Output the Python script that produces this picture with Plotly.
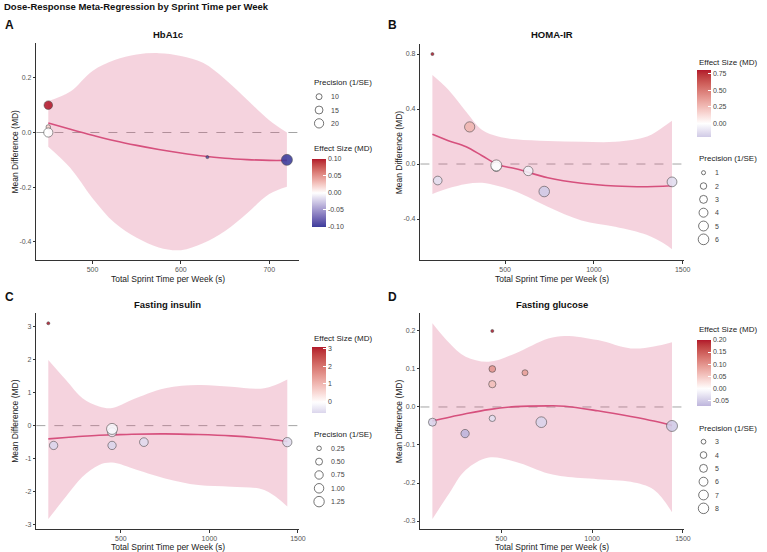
import numpy as np
import plotly.graph_objects as go

W, H = 767, 552

# ---------------- data ----------------
# Panel A: HbA1c
a_x = [450, 450, 450, 630, 720]
a_md = [0.02, 0.10, 0.00, -0.09, -0.10]
a_prec = [7.8, 17.0, 19.6, 7.0, 28.0]
a_grid = [450, 475, 500, 525, 550, 575, 600, 625, 650, 675, 700, 720]
a_fit = [0.035, 0.012, -0.010, -0.030, -0.047, -0.062, -0.075, -0.086, -0.094, -0.099, -0.102, -0.102]
a_upper = [0.115, 0.150, 0.225, 0.265, 0.285, 0.290, 0.280, 0.255, 0.195, 0.120, 0.045, 0.000]
a_lower = [-0.052, -0.130, -0.240, -0.330, -0.385, -0.420, -0.430, -0.405, -0.360, -0.295, -0.225, -0.198]
a_size_breaks = [10, 15, 20]
a_size_labels = ["10", "15", "20"]
a_col_breaks = [-0.10, -0.05, 0.0, 0.05, 0.10]
a_col_labels = ["-0.10", "-0.05", "0.00", "0.05", "0.10"]

# Panel B: HOMA-IR
b_x = [90, 120, 300, 450, 450, 630, 720, 1440]
b_md = [0.80, -0.12, 0.27, -0.02, -0.01, -0.05, -0.20, -0.13]
b_prec = [0.9, 3.7, 5.4, 4.5, 6.4, 4.5, 5.8, 4.9]
b_grid = [90, 180, 280, 370, 460, 560, 740, 930, 1120, 1300, 1390, 1440]
b_fit = [0.216, 0.170, 0.125, 0.060, -0.005, -0.035, -0.100, -0.140, -0.160, -0.165, -0.162, -0.158]
b_upper = [0.647, 0.540, 0.380, 0.247, 0.200, 0.180, 0.167, 0.162, 0.162, 0.200, 0.270, 0.315]
b_lower = [-0.218, -0.177, -0.145, -0.137, -0.160, -0.200, -0.310, -0.410, -0.456, -0.516, -0.575, -0.620]
b_size_breaks = [1, 2, 3, 4, 5, 6]
b_size_labels = ["1", "2", "3", "4", "5", "6"]
b_col_breaks = [0.0, 0.25, 0.50, 0.75]
b_col_labels = ["0.00", "0.25", "0.50", "0.75"]

# Panel C: Fasting insulin
c_x = [90, 120, 450, 450, 450, 630, 1440]
c_md = [3.1, -0.6, -0.2, -0.1, -0.6, -0.5, -0.5]
c_prec = [0.2, 0.73, 0.875, 1.4, 0.73, 0.81, 0.94]
c_grid = [90, 190, 283, 377, 451, 563, 750, 937, 1123, 1310, 1440]
c_fit = [-0.40, -0.36, -0.32, -0.29, -0.28, -0.26, -0.25, -0.27, -0.31, -0.39, -0.48]
c_upper = [1.99, 1.38, 0.83, 0.58, 0.53, 0.78, 1.13, 1.23, 1.18, 1.13, 1.40]
c_lower = [-2.83, -2.15, -1.55, -1.19, -1.12, -1.29, -1.60, -1.80, -1.85, -1.95, -2.45]
c_size_breaks = [0.25, 0.50, 0.75, 1.00, 1.25]
c_size_labels = ["0.25", "0.50", "0.75", "1.00", "1.25"]
c_col_breaks = [0, 1, 2, 3]
c_col_labels = ["0", "1", "2", "3"]

# Panel D: Fasting glucose
d_x = [120, 300, 450, 450, 450, 450, 630, 720, 1440]
d_md = [-0.04, -0.07, 0.20, 0.10, 0.06, -0.03, 0.09, -0.04, -0.05]
d_prec = [5.04, 5.33, 2.7, 3.98, 4.43, 3.72, 3.54, 8.3, 8.7]
d_grid = [120, 213, 303, 430, 576, 758, 849, 1031, 1213, 1340, 1440]
d_fit = [-0.037, -0.027, -0.018, -0.007, 0.001, 0.003, 0.002, -0.010, -0.025, -0.037, -0.049]
d_upper = [0.220, 0.168, 0.132, 0.119, 0.141, 0.180, 0.187, 0.176, 0.154, 0.159, 0.170]
d_lower = [-0.295, -0.227, -0.166, -0.133, -0.144, -0.175, -0.183, -0.190, -0.197, -0.218, -0.277]
d_size_breaks = [3, 4, 5, 6, 7, 8]
d_size_labels = ["3", "4", "5", "6", "7", "8"]
d_col_breaks = [-0.05, 0.0, 0.05, 0.10, 0.15, 0.20]
d_col_labels = ["-0.05", "0.00", "0.05", "0.10", "0.15", "0.20"]

titles = ["HbA1c", "HOMA-IR", "Fasting insulin", "Fasting glucose"]
letters = ["A", "B", "C", "D"]

# ---------------- colour helpers (Lab interpolation like ggplot) ----------------
LOW, MID, HIGH = "#3B3B9B", "#FFFFFF", "#B2182B"


def hex2rgb(h):
    h = h.lstrip("#")
    return [int(h[i:i + 2], 16) for i in (0, 2, 4)]


def rgb2lab(rgb):
    def lin(c):
        c = c / 255.0
        return c / 12.92 if c <= 0.04045 else ((c + 0.055) / 1.055) ** 2.4
    r, g, b = [lin(c) for c in rgb]
    X = 0.4124 * r + 0.3576 * g + 0.1805 * b
    Y = 0.2126 * r + 0.7152 * g + 0.0722 * b
    Z = 0.0193 * r + 0.1192 * g + 0.9505 * b
    Xn, Yn, Zn = 0.95047, 1.0, 1.08883

    def f(t):
        return t ** (1 / 3) if t > (6 / 29) ** 3 else t / (3 * (6 / 29) ** 2) + 4 / 29
    fx, fy, fz = f(X / Xn), f(Y / Yn), f(Z / Zn)
    return [116 * fy - 16, 500 * (fx - fy), 200 * (fy - fz)]


def lab2rgb(lab):
    L, a, b = lab
    fy = (L + 16) / 116
    fx = fy + a / 500
    fz = fy - b / 200

    def finv(t):
        return t ** 3 if t > 6 / 29 else 3 * (6 / 29) ** 2 * (t - 4 / 29)
    Xn, Yn, Zn = 0.95047, 1.0, 1.08883
    X, Y, Z = Xn * finv(fx), Yn * finv(fy), Zn * finv(fz)
    r = 3.2406 * X - 1.5372 * Y - 0.4986 * Z
    g = -0.9689 * X + 1.8758 * Y + 0.0415 * Z
    bb = 0.0557 * X - 0.2040 * Y + 1.0570 * Z

    def gam(c):
        c = max(0.0, min(1.0, c))
        return 12.92 * c if c <= 0.0031308 else 1.055 * c ** (1 / 2.4) - 0.055
    return "rgb(%d,%d,%d)" % tuple(round(255 * gam(c)) for c in (r, g, bb))


LAB_LOW, LAB_MID, LAB_HIGH = rgb2lab(hex2rgb(LOW)), rgb2lab(hex2rgb(MID)), rgb2lab(hex2rgb(HIGH))


def grad2(v, lim):
    m = max(abs(lim[0]), abs(lim[1]))
    t = 0.5 + v / (2 * m)
    if t < 0.5:
        s = t * 2
        lab = [LAB_LOW[i] + (LAB_MID[i] - LAB_LOW[i]) * s for i in range(3)]
    else:
        s = (t - 0.5) * 2
        lab = [LAB_MID[i] + (LAB_HIGH[i] - LAB_MID[i]) * s for i in range(3)]
    return lab2rgb(lab)


def colorscale(lim, n=31):
    out = []
    for k in range(n):
        v = lim[0] + (lim[1] - lim[0]) * k / (n - 1)
        out.append([k / (n - 1), grad2(v, lim)])
    return out


def diam(p, pmin, pmax):
    r = max(0.0, (p - pmin) / (pmax - pmin))
    return 3 + 8 * np.sqrt(r)


def px(x):
    return x / W


def py(y):
    return 1 - y / H


# ---------------- layout geometry (pixels) ----------------
panels = [
    dict(x=a_x, md=a_md, prec=a_prec, grid=a_grid, fit=a_fit, up=a_upper, lo=a_lower,
         xd=(36.7, 301.6), yd=(43.3, 260), xr=[436.5, 733.5], yr=[-0.466, 0.326],
         xt=[500, 600, 700], yt=[-0.4, -0.2, 0.0, 0.2], ytl=["-0.4", "-0.2", "0.0", "0.2"],
         sb=a_size_breaks, sl=a_size_labels, cb=a_col_breaks, cl=a_col_labels,
         leg_x=315, size_title_y=82, size_item_y0=96.7,
         col_title_y=148.5, bar_top=158.5, bar_len=67.5),
    dict(x=b_x, md=b_md, prec=b_prec, grid=b_grid, fit=b_fit, up=b_upper, lo=b_lower,
         xd=(424.3, 690.3), yd=(44, 260), xr=[22.5, 1507.5], yr=[-0.698, 0.873],
         xt=[500, 1000, 1500], yt=[-0.4, 0.0, 0.4, 0.8], ytl=["-0.4", "0.0", "0.4", "0.8"],
         sb=b_size_breaks, sl=b_size_labels, cb=b_col_breaks, cl=b_col_labels,
         leg_x=703, size_title_y=158.3, size_item_y0=172.7,
         col_title_y=62.7, bar_top=70, bar_len=66.7),
    dict(x=c_x, md=c_md, prec=c_prec, grid=c_grid, fit=c_fit, up=c_upper, lo=c_lower,
         xd=(36.7, 302), yd=(312.7, 529.3), xr=[22.5, 1507.5], yr=[-3.14, 3.42],
         xt=[500, 1000, 1500], yt=[-3, -2, -1, 0, 1, 2, 3], ytl=["-3", "-2", "-1", "0", "1", "2", "3"],
         sb=c_size_breaks, sl=c_size_labels, cb=c_col_breaks, cl=c_col_labels,
         leg_x=315, size_title_y=435, size_item_y0=448.3,
         col_title_y=338.3, bar_top=346.5, bar_len=66.2),
    dict(x=d_x, md=d_md, prec=d_prec, grid=d_grid, fit=d_fit, up=d_upper, lo=d_lower,
         xd=(424.3, 690.3), yd=(312.7, 529), xr=[54, 1506], yr=[-0.321, 0.248],
         xt=[500, 1000, 1500], yt=[-0.3, -0.2, -0.1, 0.0, 0.1, 0.2],
         ytl=["-0.3", "-0.2", "-0.1", "0.0", "0.1", "0.2"],
         sb=d_size_breaks, sl=d_size_labels, cb=d_col_breaks, cl=d_col_labels,
         leg_x=703, size_title_y=428.3, size_item_y0=441.7,
         col_title_y=329.5, bar_top=339.8, bar_len=66.2),
]

FONT = "Liberation Sans, Arial, Helvetica, sans-serif"
LINE_COL = "#D6507D"
RIBBON = "rgba(214,80,125,0.25)"

fig = go.Figure()
shapes = []
annotations = []
layout = {}

for i, P in enumerate(panels):
    k = i + 1
    xa = "x" if k == 1 else "x%d" % k
    ya = "y" if k == 1 else "y%d" % k
    ca = "coloraxis" if k == 1 else "coloraxis%d" % k
    lim = [min(P["md"]), max(P["md"])]
    pmin, pmax = min(P["prec"]), max(P["prec"])

    # ribbon
    fig.add_trace(go.Scatter(x=P["grid"], y=P["lo"], mode="lines", line=dict(width=0, shape="spline"),
                             hoverinfo="skip", xaxis=xa, yaxis=ya, showlegend=False))
    fig.add_trace(go.Scatter(x=P["grid"], y=P["up"], mode="lines", line=dict(width=0, shape="spline"),
                             fill="tonexty", fillcolor=RIBBON, hoverinfo="skip", xaxis=xa, yaxis=ya,
                             showlegend=False))
    # fit line
    fig.add_trace(go.Scatter(x=P["grid"], y=P["fit"], mode="lines",
                             line=dict(width=1.6, color=LINE_COL, shape="spline"),
                             xaxis=xa, yaxis=ya, showlegend=False))
    # points
    fig.add_trace(go.Scatter(x=P["x"], y=P["md"], mode="markers",
                             marker=dict(size=[diam(p, pmin, pmax) for p in P["prec"]],
                                         color=P["md"], coloraxis=ca,
                                         line=dict(color="#3a3a3a", width=0.6), opacity=0.88),
                             xaxis=xa, yaxis=ya, showlegend=False))

    axis_common = dict(showgrid=False, zeroline=False, showline=True, linecolor="#333333", linewidth=1,
                       ticks="outside", ticklen=2.5, tickcolor="#333333", tickwidth=1,
                       tickfont=dict(size=7, color="#555555", family=FONT))
    layout["xaxis" if k == 1 else "xaxis%d" % k] = dict(
        domain=[px(P["xd"][0]), px(P["xd"][1])], range=P["xr"], anchor=ya,
        tickvals=P["xt"], ticktext=[str(v) for v in P["xt"]], **axis_common)
    layout["yaxis" if k == 1 else "yaxis%d" % k] = dict(
        domain=[py(P["yd"][1]), py(P["yd"][0])], range=P["yr"], anchor=xa,
        tickvals=P["yt"], ticktext=P["ytl"], **axis_common)

    # colour axis / bar
    lx = P["leg_x"]
    layout[ca] = dict(cmin=lim[0], cmax=lim[1], colorscale=colorscale(lim), showscale=True,
                      colorbar=dict(x=px(lx), xanchor="left", xpad=0, y=py(P["bar_top"]),
                                    yanchor="top", ypad=0, len=P["bar_len"], lenmode="pixels",
                                    thickness=14, thicknessmode="pixels", outlinewidth=0,
                                    tickvals=P["cb"], ticktext=P["cl"], ticks="inside",
                                    ticklen=3, tickcolor="white", tickwidth=1,
                                    tickfont=dict(size=7, color="#444444", family=FONT),
                                    title=dict(text="")))

    # zero reference line
    shapes.append(dict(type="line", xref="%s domain" % xa, yref=ya, x0=0, x1=1, y0=0, y1=0,
                       line=dict(color="#9a9a9a", width=0.9, dash="dash"), layer="below"))

    # size legend (manual keys)
    annotations.append(dict(text="Precision (1/SE)", x=px(lx), y=py(P["size_title_y"]), xref="paper",
                            yref="paper", xanchor="left", yanchor="middle", showarrow=False,
                            font=dict(size=8, color="#222222", family=FONT)))
    for j, (b, lab) in enumerate(zip(P["sb"], P["sl"])):
        cy = P["size_item_y0"] + j * 13.33
        cx = lx + 7
        d = diam(b, pmin, pmax)
        r = d / 2
        shapes.append(dict(type="circle", xref="paper", yref="paper",
                           x0=px(cx - r), x1=px(cx + r), y0=py(cy + r), y1=py(cy - r),
                           line=dict(color="#3a3a3a", width=0.7), fillcolor="white"))
        annotations.append(dict(text=lab, x=px(lx + 17), y=py(cy), xref="paper", yref="paper",
                                xanchor="left", yanchor="middle", showarrow=False,
                                font=dict(size=7, color="#444444", family=FONT)))
    annotations.append(dict(text="Effect Size (MD)", x=px(lx), y=py(P["col_title_y"]), xref="paper",
                            yref="paper", xanchor="left", yanchor="middle", showarrow=False,
                            font=dict(size=8, color="#222222", family=FONT)))

    # titles
    cxp = (P["xd"][0] + P["xd"][1]) / 2
    top = 35 if k <= 2 else 304
    annotations.append(dict(text="<b>%s</b>" % titles[i], x=px(cxp), y=py(top), xref="paper", yref="paper",
                            xanchor="center", yanchor="middle", showarrow=False,
                            font=dict(size=9.5, color="#111111", family=FONT)))
    annotations.append(dict(text="<b>%s</b>" % letters[i], x=px(3 if k in (1, 3) else 390),
                            y=py(25 if k <= 2 else 296.7), xref="paper", yref="paper",
                            xanchor="left", yanchor="middle", showarrow=False,
                            font=dict(size=12, color="#111111", family=FONT)))
    annotations.append(dict(text="Total Sprint Time per Week (s)", x=px(cxp),
                            y=py(278.5 if k <= 2 else 546.5), xref="paper", yref="paper",
                            xanchor="center", yanchor="middle", showarrow=False,
                            font=dict(size=8.5, color="#222222", family=FONT)))
    annotations.append(dict(text="Mean Difference (MD)", x=px(15 if k in (1, 3) else 403),
                            y=py((P["yd"][0] + P["yd"][1]) / 2), xref="paper", yref="paper",
                            xanchor="center", yanchor="middle", showarrow=False, textangle=-90,
                            font=dict(size=8.5, color="#222222", family=FONT)))

annotations.append(dict(text="<b>Dose-Response Meta-Regression by Sprint Time per Week</b>",
                        x=px(2), y=py(6.5), xref="paper", yref="paper", xanchor="left",
                        yanchor="middle", showarrow=False,
                        font=dict(size=9.5, color="#111111", family=FONT)))

fig.update_layout(width=W, height=H, margin=dict(l=0, r=0, t=0, b=0),
                  paper_bgcolor="white", plot_bgcolor="white", showlegend=False,
                  font=dict(family=FONT), shapes=shapes, annotations=annotations, **layout)

fig.write_html("out.html")
